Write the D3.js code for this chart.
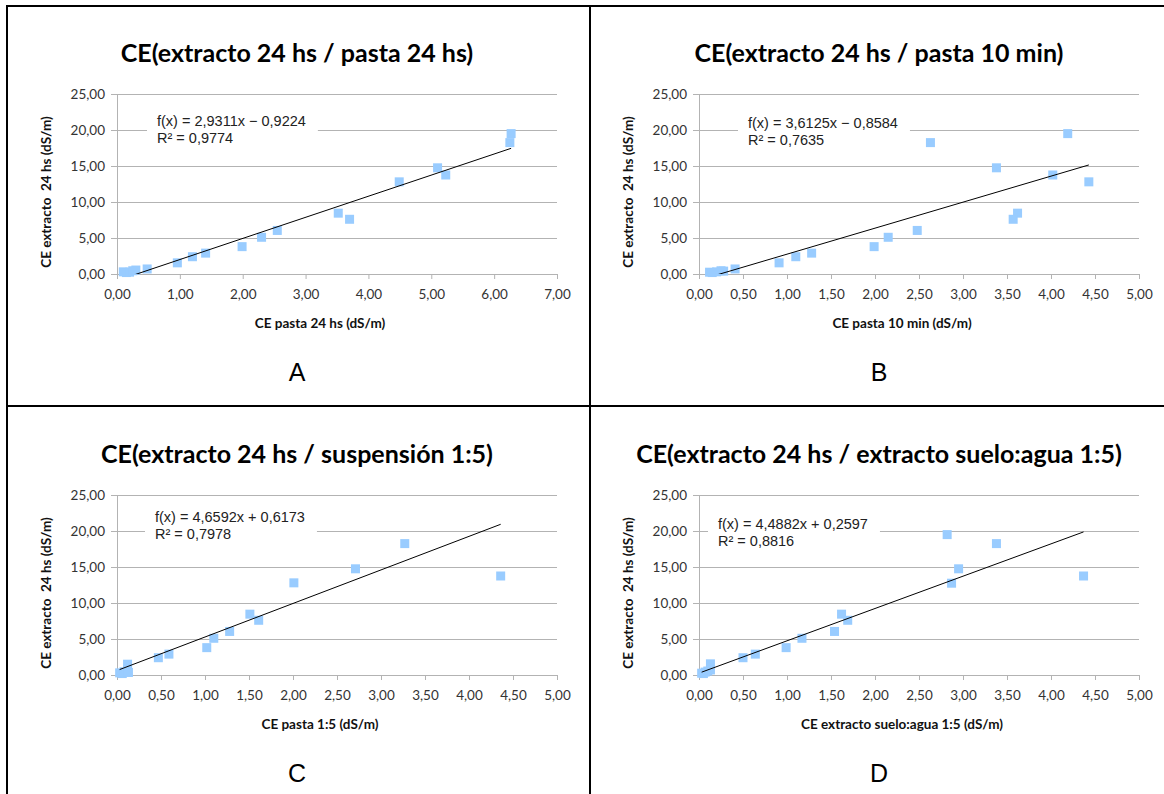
<!DOCTYPE html>
<html>
<head>
<meta charset="utf-8">
<script src="https://cdn.jsdelivr.net/npm/d3@7"></script>
<style>
    body { margin: 0; background: #fff; }
</style>
</head>
<body>
<svg></svg>
<script>
const svgWidth = 1164
const svgHeight = 794

// values (y is always CE extracto 24 hs)
const xPasta24 = [0.10, 0.15, 0.20, 0.25, 0.30, 0.48, 0.96, 1.20, 1.41, 1.99, 2.30, 2.55, 3.52, 3.70, 4.49, 5.10, 5.23, 6.25, 6.27]
const yPasta24 = [0.30, 0.20, 0.25, 0.45, 0.55, 0.70, 1.55, 2.40, 2.90, 3.80, 5.10, 6.05, 8.45, 7.60, 12.80, 14.75, 13.75, 18.25, 19.50]

const xPasta10 = [0.12, 0.15, 0.20, 0.25, 0.28, 0.41, 0.91, 1.10, 1.28, 1.99, 2.15, 2.48, 3.62, 3.57, 4.43, 3.38, 4.02, 2.63, 4.19]
const yPasta10 = [0.25, 0.20, 0.30, 0.45, 0.40, 0.70, 1.55, 2.40, 2.90, 3.80, 5.10, 6.05, 8.45, 7.60, 12.80, 14.75, 13.75, 18.25, 19.50]

const xSusp15 = [0.03, 0.06, 0.08, 0.12, 0.13, 0.12, 0.47, 0.59, 1.02, 1.10, 1.28, 1.51, 1.61, 2.01, 2.71, 4.36, 3.27]
const ySusp15 = [0.30, 0.20, 0.45, 0.60, 0.35, 1.50, 2.40, 2.90, 3.80, 5.10, 6.05, 8.45, 7.60, 12.80, 14.75, 13.75, 18.25]

const xSueloAgua = [0.03, 0.05, 0.07, 0.10, 0.13, 0.13, 0.50, 0.64, 0.99, 1.17, 1.54, 1.62, 1.69, 2.87, 2.95, 4.37, 3.38, 2.82]
const ySueloAgua = [0.25, 0.20, 0.40, 0.55, 0.70, 1.55, 2.40, 2.90, 3.80, 5.10, 6.05, 8.45, 7.60, 12.75, 14.75, 13.75, 18.25, 19.50]

const titles = [
    "CE(extracto 24 hs / pasta 24 hs)",
    "CE(extracto 24 hs / pasta 10 min)",
    "CE(extracto 24 hs / suspensión 1:5)",
    "CE(extracto 24 hs / extracto suelo:agua 1:5)"
]
const xTitles = [
    "CE pasta 24 hs (dS/m)",
    "CE pasta 10 min (dS/m)",
    "CE pasta 1:5 (dS/m)",
    "CE extracto suelo:agua 1:5 (dS/m)"
]
const yTitle = "CE extracto  24 hs (dS/m)"
const letters = ["A", "B", "C", "D"]

// linear trend lines as printed on the charts
const slopes = [2.9311, 3.6125, 4.6592, 4.4882]
const intercepts = [-0.9224, -0.8584, 0.6173, 0.2597]
const r2Values = [0.9774, 0.7635, 0.7978, 0.8816]

const xMaxValues = [7, 5, 5, 5]
const xTickSteps = [1, 0.5, 0.5, 0.5]
const yTicks = [0, 5, 10, 15, 20, 25]

const seriesX = [xPasta24, xPasta10, xSusp15, xSueloAgua]
const seriesY = [yPasta24, yPasta10, ySusp15, ySueloAgua]

// panel placement (offsets of each quarter + where the equation box sits)
const layout = [
    { ox: 0, oy: 0, eqDx: 40, eqDy: 27 },
    { ox: 582, oy: 0, eqDx: 49, eqDy: 29 },
    { ox: 0, oy: 401, eqDx: 38, eqDy: 22 },
    { ox: 582, oy: 401, eqDx: 19, eqDy: 29 }
]
const plot = { left: 117, top: 94, width: 440, height: 180 }

const locale = d3.formatLocale({ decimal: ",", thousands: ".", grouping: [3], currency: ["", ""] })
const fmt2 = locale.format(".2f")
const fmt4 = locale.format(".4f")

const svg = d3.select("svg")
    .attr("width", svgWidth)
    .attr("height", svgHeight)
    .style("font-family", "Lato, 'Open Sans', sans-serif")

svg.append("rect")
    .attr("width", svgWidth)
    .attr("height", svgHeight)
    .attr("fill", "#fff")

const axisColor = "#b3b3b3"
const markerColor = "#99ccff"
const markerSize = 9

titles.forEach((title, i) => {
    const { ox, oy, eqDx, eqDy } = layout[i]
    const xs = seriesX[i]
    const ys = seriesY[i]

    const xScale = d3.scaleLinear()
        .domain([0, xMaxValues[i]])
        .range([0, plot.width])
    const yScale = d3.scaleLinear()
        .domain([0, 25])
        .range([plot.height, 0])

    // chart title
    svg.append("text")
        .text(title)
        .attr("x", ox + 297)
        .attr("y", oy + 62)
        .attr("text-anchor", "middle")
        .attr("font-size", 25)
        .attr("font-weight", "bold")
        .attr("fill", "#000")

    const g = svg.append("g")
        .attr("transform", `translate(${ox + plot.left},${oy + plot.top})`)

    // y axis + horizontal grid lines
    const yAxis = g.append("g")
        .call(d3.axisLeft(yScale)
            .tickValues(yTicks)
            .tickSizeInner(-plot.width)
            .tickSizeOuter(0)
            .tickPadding(12)
            .tickFormat(fmt2))
    yAxis.selectAll(".tick line")
        .attr("x1", -6)
        .attr("stroke", axisColor)
    yAxis.select(".domain").attr("stroke", axisColor)
    yAxis.selectAll("text")
        .attr("font-size", 13.5)
        .attr("fill", "#333")
        .attr("font-family", "Lato, sans-serif")

    // x axis
    const xTicks = d3.range(0, xMaxValues[i] + xTickSteps[i] / 2, xTickSteps[i])
    const xAxis = g.append("g")
        .attr("transform", `translate(0,${plot.height})`)
        .call(d3.axisBottom(xScale)
            .tickValues(xTicks)
            .tickSizeInner(5)
            .tickSizeOuter(0)
            .tickPadding(10)
            .tickFormat(fmt2))
    xAxis.selectAll(".tick line").attr("stroke", axisColor)
    xAxis.select(".domain").attr("stroke", axisColor)
    xAxis.selectAll("text")
        .attr("font-size", 13.5)
        .attr("fill", "#333")
        .attr("font-family", "Lato, sans-serif")

    // equation label with white background hiding the grid line
    const eqGroup = g.append("g")
    const eqText = eqGroup.append("g")
        .attr("font-family", "'Liberation Sans Narrow', 'Liberation Sans', Arial, sans-serif")
        .attr("font-size", 14.5)
        .attr("fill", "#222")
    const sign = intercepts[i] < 0 ? "\u2212" : "+"
    eqText.append("text")
        .text(`f(x) = ${fmt4(slopes[i])}x ${sign} ${fmt4(Math.abs(intercepts[i]))}`)
        .attr("x", eqDx)
        .attr("y", eqDy + 5)
    eqText.append("text")
        .text(`R² = ${fmt4(r2Values[i])}`)
        .attr("x", eqDx)
        .attr("y", eqDy + 22)
    const bb = eqText.node().getBBox()
    eqGroup.insert("rect", ":first-child")
        .attr("x", bb.x - 10)
        .attr("y", bb.y - 2)
        .attr("width", bb.width + 22)
        .attr("height", bb.height + 4)
        .attr("fill", "#fff")

    // clip area so the trend line stops at the x axis
    const clipId = `clip${i}`
    g.append("clipPath")
        .attr("id", clipId)
        .append("rect")
        .attr("width", plot.width)
        .attr("height", plot.height)

    // markers
    g.append("g")
        .selectAll("rect")
        .data(xs.map((x, j) => [x, ys[j]]))
        .join("rect")
        .attr("x", (d) => xScale(d[0]) - markerSize / 2)
        .attr("y", (d) => yScale(d[1]) - markerSize / 2)
        .attr("width", markerSize)
        .attr("height", markerSize)
        .attr("fill", markerColor)

    // trend line over the data's x range
    const xExtent = d3.extent(xs)
    g.append("line")
        .attr("clip-path", `url(#${clipId})`)
        .attr("x1", xScale(xExtent[0]))
        .attr("y1", yScale(slopes[i] * xExtent[0] + intercepts[i]))
        .attr("x2", xScale(xExtent[1]))
        .attr("y2", yScale(slopes[i] * xExtent[1] + intercepts[i]))
        .attr("stroke", "#000")
        .attr("stroke-width", 1)

    // axis titles
    svg.append("text")
        .text(yTitle)
        .attr("transform", `translate(${ox + 51},${oy + 192}) rotate(-90)`)
        .attr("text-anchor", "middle")
        .attr("font-size", 13.5)
        .attr("font-weight", "bold")
        .attr("fill", "#111")
        .style("white-space", "pre")

    svg.append("text")
        .text(xTitles[i])
        .attr("x", ox + 320)
        .attr("y", oy + 328)
        .attr("text-anchor", "middle")
        .attr("font-size", 13.5)
        .attr("font-weight", "bold")
        .attr("fill", "#111")

    // panel letter
    svg.append("text")
        .text(letters[i])
        .attr("x", ox + 297)
        .attr("y", oy + 381)
        .attr("text-anchor", "middle")
        .attr("font-size", 25)
        .attr("font-family", "'Liberation Sans', Arial, sans-serif")
        .attr("fill", "#000")
})

// table borders around the four panels
const borders = svg.append("g")
    .attr("stroke", "#000")
    .attr("stroke-width", 2)
borders.append("line").attr("x1", 7).attr("y1", 6).attr("x2", svgWidth).attr("y2", 6)
borders.append("line").attr("x1", 7).attr("y1", 5).attr("x2", 7).attr("y2", svgHeight)
borders.append("line").attr("x1", 590).attr("y1", 5).attr("x2", 590).attr("y2", svgHeight)
borders.append("line").attr("x1", 7).attr("y1", 406).attr("x2", svgWidth).attr("y2", 406)
</script>
</body>
</html>
